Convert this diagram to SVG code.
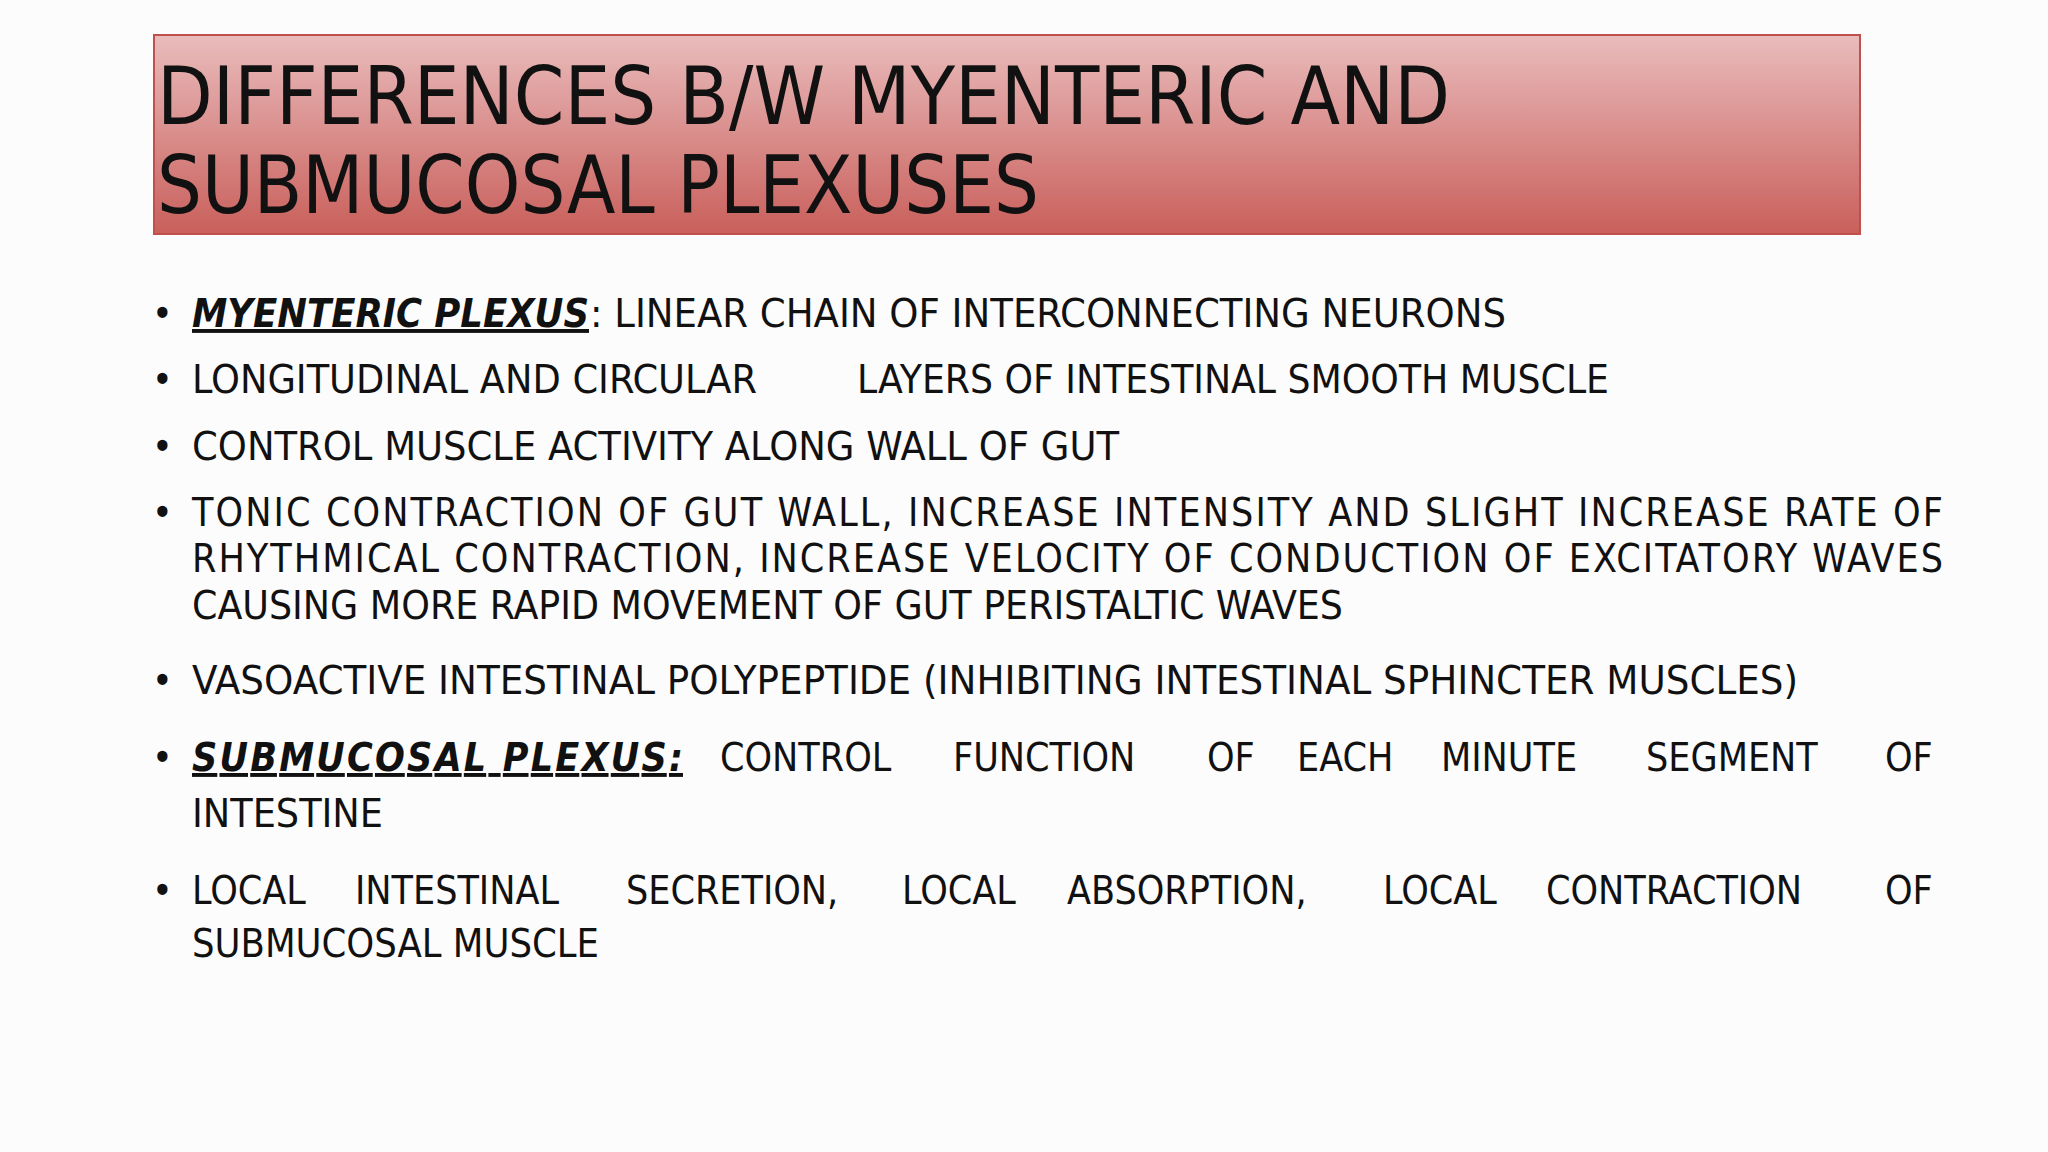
<svg xmlns="http://www.w3.org/2000/svg" width="2048" height="1152" viewBox="0 0 2048 1152">
<defs>
<linearGradient id="tg" x1="0" y1="0" x2="0" y2="1">
<stop offset="0" stop-color="#e9bcbc"/><stop offset="1" stop-color="#c95f5b"/>
</linearGradient>
<style>
text{font-family:"DejaVu Sans Condensed","DejaVu Sans",sans-serif;fill:#111;}
.t{font-size:80px;}
.b{font-size:39px;}
.h{font-weight:bold;font-style:italic;text-decoration:underline;}
</style>
</defs>
<rect width="2048" height="1152" fill="#fdfcfc"/>
<g id="title">
<rect x="154" y="35" width="1706" height="199" fill="url(#tg)" stroke="#c0504d" stroke-width="2"/>
<text class="t" x="157" y="124" textLength="1293" lengthAdjust="spacingAndGlyphs">DIFFERENCES B/W MYENTERIC AND</text>
<text class="t" x="157" y="213" textLength="882" lengthAdjust="spacingAndGlyphs">SUBMUCOSAL  PLEXUSES</text>
</g>
<g id="bullets" class="b">
<text class="b" x="152" y="327">•</text>
<text class="b" x="152" y="393">•</text>
<text class="b" x="152" y="460">•</text>
<text class="b" x="152" y="526">•</text>
<text class="b" x="152" y="694">•</text>
<text class="b" x="152" y="771">•</text>
<text class="b" x="152" y="904">•</text>
</g>
<g id="b1">
<text class="b h" x="192" y="327" textLength="397" lengthAdjust="spacingAndGlyphs">MYENTERIC PLEXUS</text>
<text class="b" x="590" y="327" textLength="916" lengthAdjust="spacingAndGlyphs">: LINEAR CHAIN OF INTERCONNECTING NEURONS</text>
</g>
<g id="b2">
<text class="b" x="192" y="393" textLength="565" lengthAdjust="spacingAndGlyphs">LONGITUDINAL AND CIRCULAR</text>
<text class="b" x="857" y="393" textLength="752" lengthAdjust="spacingAndGlyphs">LAYERS OF INTESTINAL SMOOTH MUSCLE</text>
</g>
<g id="b3">
<text class="b" x="192" y="460" textLength="927" lengthAdjust="spacingAndGlyphs">CONTROL MUSCLE ACTIVITY ALONG WALL OF GUT</text>
</g>
<g id="b4">
<text class="b" x="192" y="526" textLength="1751" lengthAdjust="spacing">TONIC CONTRACTION OF GUT WALL, INCREASE INTENSITY AND SLIGHT INCREASE  RATE OF</text>
<text class="b" x="192" y="572" textLength="1751" lengthAdjust="spacing">RHYTHMICAL CONTRACTION, INCREASE VELOCITY OF CONDUCTION OF  EXCITATORY WAVES</text>
<text class="b" x="192" y="619" textLength="1151" lengthAdjust="spacingAndGlyphs">CAUSING MORE RAPID MOVEMENT OF GUT PERISTALTIC WAVES</text>
</g>
<g id="b5">
<text class="b" x="192" y="694" textLength="1606" lengthAdjust="spacingAndGlyphs">VASOACTIVE INTESTINAL POLYPEPTIDE (INHIBITING INTESTINAL SPHINCTER  MUSCLES)</text>
</g>
<g id="b6">
<text class="b h" x="192" y="771" textLength="491" lengthAdjust="spacing">SUBMUCOSAL    PLEXUS:</text>
<text class="b" x="720" y="771">CONTROL</text>
<text class="b" x="953" y="771">FUNCTION</text>
<text class="b" x="1207" y="771">OF</text>
<text class="b" x="1297" y="771">EACH</text>
<text class="b" x="1441" y="771">MINUTE</text>
<text class="b" x="1646" y="771">SEGMENT</text>
<text class="b" x="1885" y="771">OF</text>
<text class="b" x="192" y="827" textLength="191" lengthAdjust="spacingAndGlyphs">INTESTINE</text>
</g>
<g id="b7">
<text class="b" x="192" y="904">LOCAL</text>
<text class="b" x="355" y="904">INTESTINAL</text>
<text class="b" x="626" y="904">SECRETION,</text>
<text class="b" x="902" y="904">LOCAL</text>
<text class="b" x="1067" y="904">ABSORPTION,</text>
<text class="b" x="1383" y="904">LOCAL</text>
<text class="b" x="1546" y="904">CONTRACTION</text>
<text class="b" x="1885" y="904">OF</text>
<text class="b" x="192" y="957" textLength="407" lengthAdjust="spacingAndGlyphs">SUBMUCOSAL MUSCLE</text>
</g>
<g id="connectors"/>
</svg>
